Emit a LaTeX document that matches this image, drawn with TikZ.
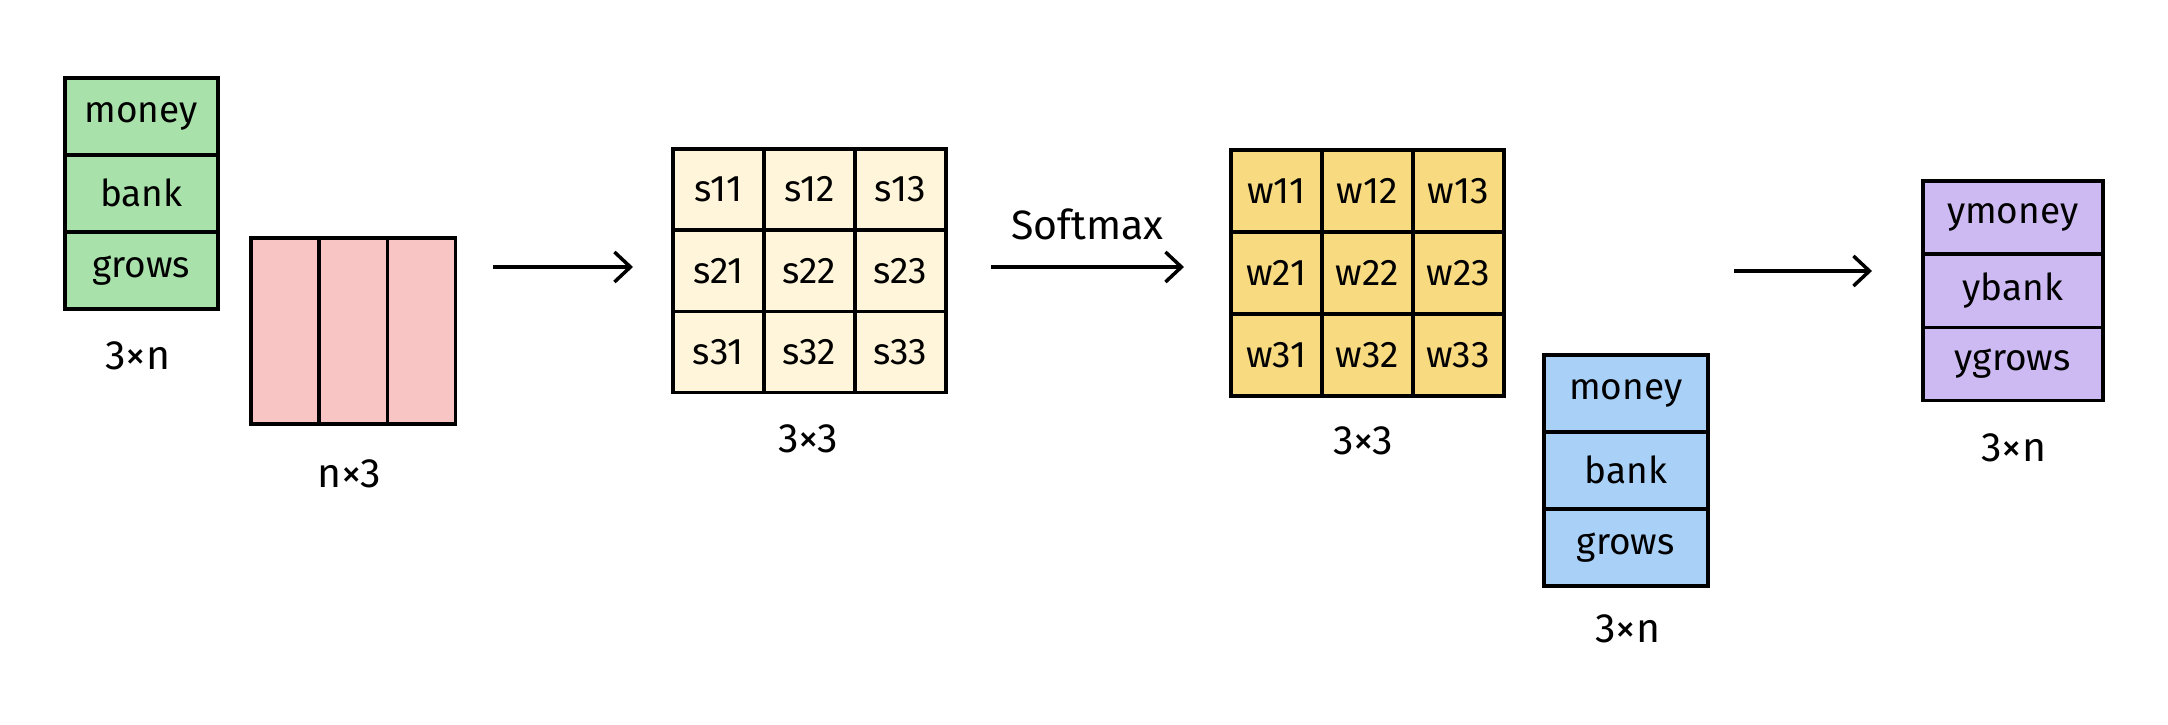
\documentclass[tikz,border=0pt]{standalone}
\usepackage{fontspec}
\setmainfont{Fira Sans}
\usetikzlibrary{arrows.meta,positioning}
\definecolor{cgreen}{HTML}{A9E1AA}
\definecolor{cpink}{HTML}{F8C5C4}
\definecolor{ccream}{HTML}{FFF5DA}
\definecolor{cyellow}{HTML}{F8DA80}
\definecolor{cblue}{HTML}{A9D1F8}
\definecolor{cpurple}{HTML}{CDBAF2}
\tikzset{
  cell/.style={draw=black, line width=3.5pt, inner sep=0pt, anchor=north west,
    font=\fontsize{37}{42}\selectfont},
  lbl/.style={font=\fontsize{41}{46}\selectfont},
  arr/.style={-{Straight Barb[length=16pt,width=30pt,line width=3.5pt]}, line width=3.5pt}
}
\begin{document}
\begin{tikzpicture}[x=1pt,y=-1pt]
  \useasboundingbox (0,0) rectangle (2168,725);

  % input column (green)
  \foreach \w [count=\i] in {money,bank,grows}
    \node[cell, fill=cgreen, minimum width=153pt, minimum height=77pt]
      (x\i) at (63,{76+(\i-1)*77}) {\w};
  \node[lbl] (xl) at (138,356) {3×n};

  % transposed (pink)
  \foreach \i in {1,2,3}
    \node[cell, fill=cpink, minimum width=68.3pt, minimum height=186pt]
      (k\i) at ({249+(\i-1)*68.3},236) {};
  \node[lbl] (kl) at (349,474) {n×3};

  % scores
  \foreach \r in {1,2,3}
    \foreach \c in {1,2,3}
      \node[cell, fill=ccream, minimum width=91pt, minimum height=81.3pt]
        (s\r\c) at ({671+(\c-1)*91},{147+(\r-1)*81.3}) {s\r\c};
  \node[lbl] (sl) at (808,439) {3×3};

  % weights
  \foreach \r in {1,2,3}
    \foreach \c in {1,2,3}
      \node[cell, fill=cyellow, minimum width=91pt, minimum height=82pt]
        (w\r\c) at ({1229+(\c-1)*91},{148+(\r-1)*82}) {w\r\c};
  \node[lbl] (wl) at (1363,441) {3×3};

  % values (blue)
  \foreach \w [count=\i] in {money,bank,grows}
    \node[cell, fill=cblue, minimum width=164pt, minimum height=77pt]
      (v\i) at (1542,{353+(\i-1)*77}) {\w};
  \node[lbl] (vl) at (1628,629) {3×n};

  % output (purple)
  \foreach \w [count=\i] in {ymoney,ybank,ygrows}
    \node[cell, fill=cpurple, minimum width=180pt, minimum height=73.3pt]
      (y\i) at (1921,{179+(\i-1)*73.3}) {\w};
  \node[lbl] (yl) at (2014,448) {3×n};

  % arrows
  \coordinate (a1) at (493,267);
  \coordinate (b1) at (633,267);
  \coordinate (a2) at (991,267);
  \coordinate (b2) at (1184,267);
  \coordinate (a3) at (1734,271);
  \coordinate (b3) at (1872,271);
  \draw[arr] (a1) -- (b1);
  \draw[arr] (a2) -- node[lbl, above=22pt] (sm) {Softmax} (b2);
  \draw[arr] (a3) -- (b3);
\end{tikzpicture}
\end{document}
